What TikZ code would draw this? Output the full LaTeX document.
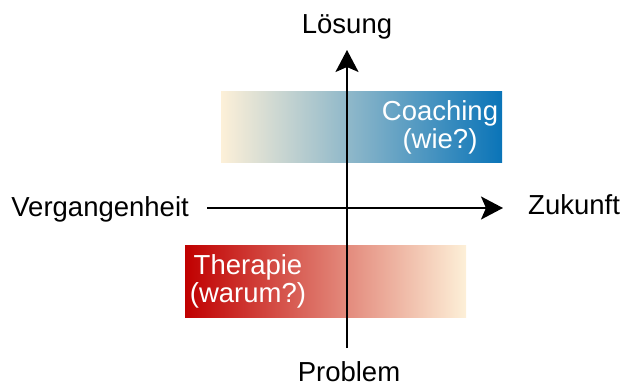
\documentclass[tikz,border=0pt]{standalone}
\usepackage{fontspec}
\setmainfont{Liberation Sans}
\usetikzlibrary{arrows.meta}
\definecolor{cream}{HTML}{FDF0D8}
\definecolor{cblue}{HTML}{0A74B8}
\definecolor{cred}{HTML}{C00000}
\tikzset{
  lbl/.style={font=\fontsize{27.5}{31}\selectfont, inner sep=0pt},
  inlbl/.style={font=\fontsize{27.5}{28}\selectfont, text=white, inner sep=0pt, align=center},
  axis/.style={line width=2pt, -{Stealth[length=22pt,width=23pt,inset=5pt]}},
}
\begin{document}
\begin{tikzpicture}[x=1pt,y=-1pt]
\useasboundingbox (0,0) rectangle (621,387);
% bars
\shade[left color=cream, right color=cblue] (221,92) rectangle (502,163);
\shade[left color=cred, right color=cream] (185,246) rectangle (466,317);
\node[inlbl] (coach) at (440,127) {Coaching\\(wie?)};
\node[inlbl] (ther) at (248,281.5) {Therapie\\(warum?)};
% labels
\node[lbl, anchor=base] (loes) at (347,34) {Lösung};
\node[lbl, anchor=base] (prob) at (349,381) {Problem};
\node[lbl, anchor=base east] (verg) at (189,216.5) {Vergangenheit};
\node[lbl, anchor=base west] (zuk) at (528,215) {Zukunft};
\coordinate (vb) at (347,348);
\coordinate (vt) at (347,50);
\coordinate (hl) at (207,208);
\coordinate (hr) at (503,208);
\draw[axis] (vb) -- (vt);
\draw[axis] (hl) -- (hr);
\end{tikzpicture}
\end{document}
